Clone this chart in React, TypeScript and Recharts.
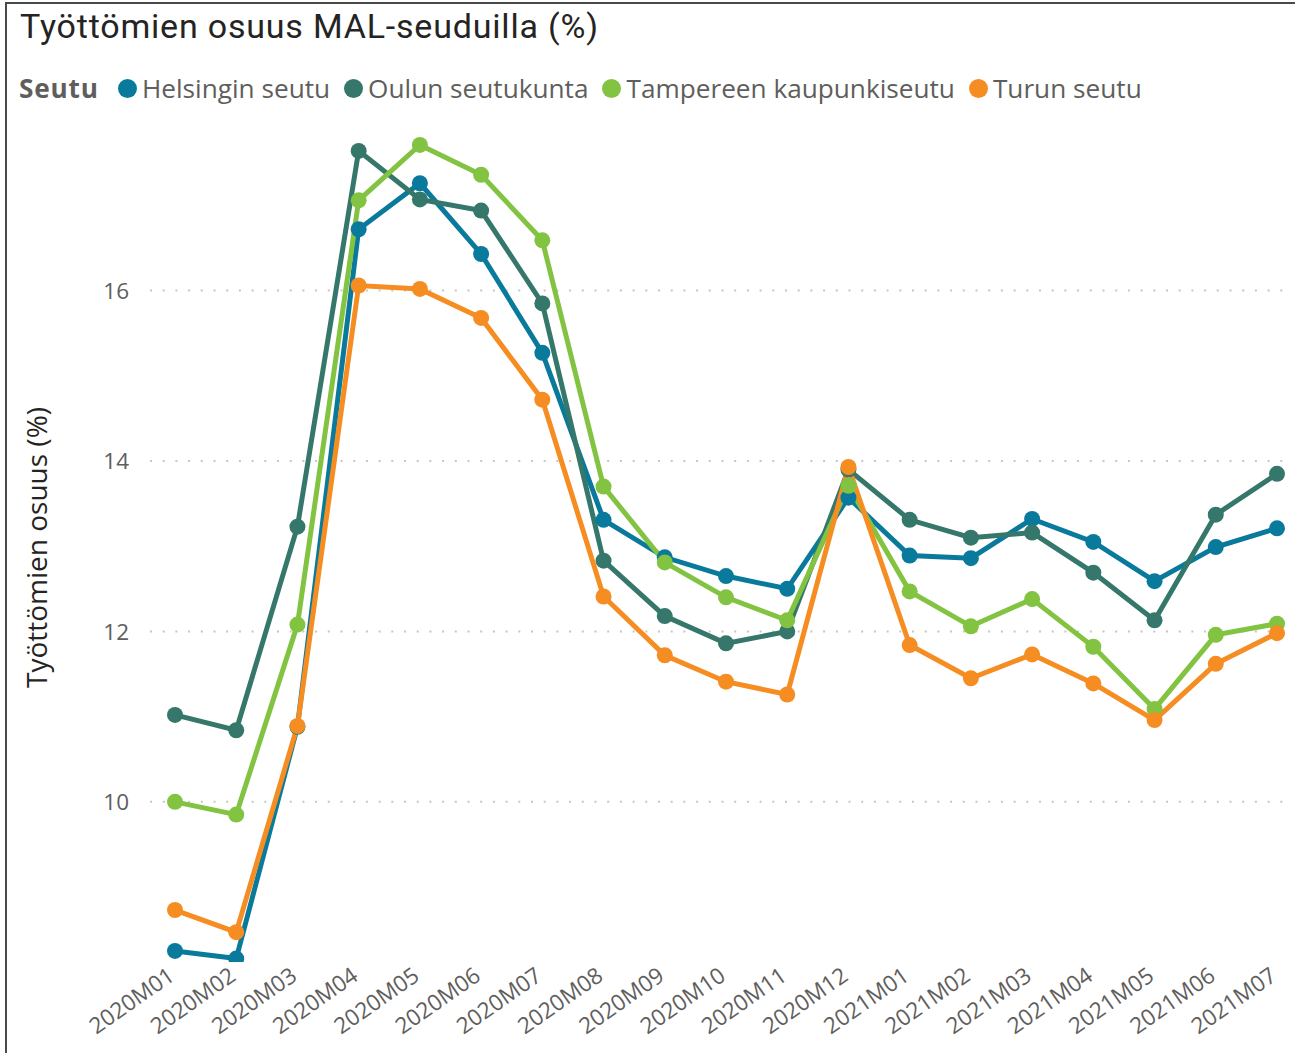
import React from 'react';
import { LineChart, Line, XAxis, YAxis, CartesianGrid, Legend } from 'recharts';

const categories = [
  '2020M01', '2020M02', '2020M03', '2020M04', '2020M05', '2020M06', '2020M07',
  '2020M08', '2020M09', '2020M10', '2020M11', '2020M12',
  '2021M01', '2021M02', '2021M03', '2021M04', '2021M05', '2021M06', '2021M07',
];

const helsinki = [8.25, 8.16, 10.88, 16.72, 17.26, 16.43, 15.27, 13.31, 12.87, 12.65, 12.5, 13.57, 12.89, 12.86, 13.32, 13.05, 12.59, 12.99, 13.21];
const oulu = [11.02, 10.84, 13.23, 17.64, 17.07, 16.94, 15.85, 12.83, 12.18, 11.86, 12.0, 13.9, 13.31, 13.1, 13.16, 12.69, 12.13, 13.37, 13.85];
const tampere = [10.0, 9.85, 12.08, 17.06, 17.71, 17.36, 16.59, 13.7, 12.81, 12.4, 12.13, 13.71, 12.47, 12.06, 12.38, 11.82, 11.09, 11.96, 12.09];
const turku = [8.73, 8.47, 10.89, 16.06, 16.02, 15.68, 14.72, 12.41, 11.72, 11.41, 11.26, 13.93, 11.84, 11.45, 11.73, 11.39, 10.96, 11.62, 11.98];

const seriesNames = ['Helsingin seutu', 'Oulun seutukunta', 'Tampereen kaupunkiseutu', 'Turun seutu'];
const seriesValues = [helsinki, oulu, tampere, turku];
const seriesColors = ['#0A7A9C', '#35776A', '#82C341', '#F68D22'];

const yTicks = [10, 12, 14, 16];
const yDomain = [8.12, 17.85];

const title = 'Työttömien osuus MAL-seuduilla (%)';
const yTitle = 'Työttömien osuus (%)';
const legendTitle = 'Seutu';

const data = categories.map((month, i) => {
  const row: Record<string, string | number> = { month };
  seriesNames.forEach((name, s) => {
    row[name] = seriesValues[s][i];
  });
  return row;
});

const FONT = '"Open Sans", "Noto Sans", sans-serif';

const XTick = (props: any) => {
  const { x, payload } = props;
  return (
    <g transform={`translate(${x + 1},${979})`}>
      <text
        x={0}
        y={0}
        transform="rotate(-35)"
        textAnchor="end"
        fill="#605E5C"
        fontSize={22.5}
        fontFamily={FONT}
      >
        {payload.value}
      </text>
    </g>
  );
};

const YTick = (props: any) => {
  const { x, y, payload } = props;
  return (
    <text
      x={x}
      y={y}
      dy="0.36em"
      textAnchor="end"
      fill="#605E5C"
      fontSize={22.5}
      fontFamily={FONT}
    >
      {payload.value}
    </text>
  );
};

const YLabel = (props: any) => {
  const vb = props.viewBox || { x: 0, y: 0, width: 0, height: 0 };
  const cx = 47;
  const cy = vb.y + vb.height / 2;
  return (
    <text
      x={cx}
      y={cy}
      transform={`rotate(-90 ${cx} ${cy})`}
      textAnchor="middle"
      fill="#252423"
      fontSize={28}
      fontFamily={FONT}
    >
      {yTitle}
    </text>
  );
};

const LegendContent = (props: any) => {
  const items = props.payload || [];
  return (
    <div style={{ display: 'flex', alignItems: 'center', fontFamily: FONT, fontSize: 26.2, color: '#605E5C', whiteSpace: 'nowrap', lineHeight: '34px' }}>
      <span style={{ fontWeight: 700, display: 'inline-block', width: 99, letterSpacing: 0.8 }}>{legendTitle}</span>
      {items.map((it: any, i: number) => (
        <span key={i} style={{ display: 'flex', alignItems: 'center', marginRight: 14 }}>
          <span style={{ display: 'inline-block', width: 19, height: 19, borderRadius: '50%', background: it.color, marginRight: 5 }} />
          <span>{it.value}</span>
        </span>
      ))}
    </div>
  );
};

export default function App() {
  return (
    <div style={{ position: 'absolute', left: 0, top: 0, width: 1295, height: 1053, overflow: 'hidden', background: '#ffffff' }}>
      <div style={{ position: 'absolute', left: 5, top: 2, width: 1290, height: 1051, borderLeft: '2px solid #4a4a4a', borderTop: '2px solid #4a4a4a', boxSizing: 'border-box' }} />
      <div style={{ position: 'absolute', left: 20, top: 9, fontFamily: 'Roboto, sans-serif', fontSize: 34, lineHeight: '34px', color: '#252423', whiteSpace: 'nowrap', letterSpacing: 0.8 }}>
        {title}
      </div>
      <div style={{ position: 'absolute', left: 0, top: 0 }}>
        <LineChart width={1295} height={1053} data={data} margin={{ top: 133, right: 8, bottom: 0, left: 0 }}>
          <CartesianGrid
            horizontal
            vertical={false}
            horizontalValues={yTicks}
            syncWithTicks={false}
            stroke="#C8C6C4"
            strokeWidth={2}
            strokeDasharray="2 10.7"
          />
          <XAxis
            dataKey="month"
            axisLine={false}
            tickLine={false}
            tickSize={0}
            height={91}
            padding={{ left: 25, right: 10 }}
            interval={0}
            tick={<XTick />}
          />
          <YAxis
            type="number"
            domain={yDomain}
            ticks={yTicks}
            allowDataOverflow
            axisLine={false}
            tickLine={false}
            tickSize={0}
            tickMargin={21}
            width={150}
            tick={<YTick />}
            label={<YLabel />}
          />
          <Legend
            verticalAlign="middle"
            layout="horizontal"
            content={<LegendContent />}
            wrapperStyle={{ top: 71, left: 19, width: 'auto' }}
          />
          {seriesNames.map((name, s) => (
            <Line
              key={name}
              type="linear"
              dataKey={name}
              name={name}
              stroke={seriesColors[s]}
              strokeWidth={5}
              dot={{ r: 8, fill: seriesColors[s], stroke: 'none' }}
              activeDot={false}
              isAnimationActive={false}
            />
          ))}
        </LineChart>
      </div>
    </div>
  );
}
